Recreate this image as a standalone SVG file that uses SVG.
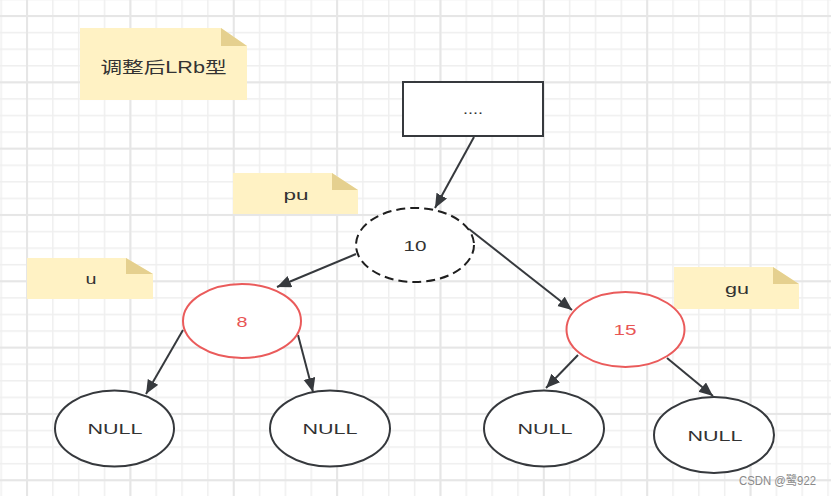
<svg xmlns="http://www.w3.org/2000/svg" width="831" height="496" viewBox="0 0 831 496">
  <style>
    .note { fill: #fff2c4; }
    .fold { fill: #e5d08f; }
    .cut { fill: #ffffff; }
    .txt { font-family: "Liberation Sans", "Noto Sans CJK SC", sans-serif; fill: #333333; text-anchor: middle; }
    .node { fill: #ffffff; stroke: #36393d; stroke-width: 2; }
    .red { fill: #ffffff; stroke: #ea5b5b; stroke-width: 2; }
    .redtxt { fill: #e85555; }
    .edge { stroke: #36393d; stroke-width: 2; fill: none; marker-end: url(#arrow); }
  </style>
  <defs>
    <pattern id="minor" patternUnits="userSpaceOnUse" x="0.41" y="-1.33" width="25.84" height="16.58">
      <rect x="0" y="0" width="1.5" height="16.58" fill="#efefef"/>
      <rect x="0" y="0" width="25.84" height="1.5" fill="#efefef"/>
    </pattern>
    <pattern id="major" patternUnits="userSpaceOnUse" x="26" y="15" width="103.36" height="66.32">
      <rect x="0" y="0" width="2" height="66.32" fill="#e6e6e6"/>
      <rect x="0" y="0" width="103.36" height="2" fill="#e6e6e6"/>
    </pattern>
    <marker id="arrow" markerUnits="userSpaceOnUse" markerWidth="16" markerHeight="14" refX="14" refY="6" orient="auto">
      <path d="M0,0 L14,6 L0,12 Z" fill="#36393d"/>
    </marker>
  </defs>

  <rect x="0" y="0" width="831" height="496" fill="#ffffff"/>
  <rect x="0" y="0" width="831" height="496" fill="url(#minor)"/>
  <rect x="0" y="0" width="831" height="496" fill="url(#major)"/>

  <g id="connectors">
    <line class="edge" x1="474" y1="137" x2="435" y2="208"/>
    <line class="edge" x1="356" y1="254" x2="277" y2="287"/>
    <line class="edge" x1="469" y1="229" x2="572" y2="310"/>
    <line class="edge" x1="183" y1="330" x2="146" y2="394"/>
    <line class="edge" x1="298" y1="335" x2="313" y2="392"/>
    <line class="edge" x1="578" y1="355" x2="546" y2="388"/>
    <line class="edge" x1="667" y1="358" x2="713" y2="396"/>
  </g>

  <g id="note-title">
    <path class="note" d="M80,28 H221 L247,46 V100 H80 Z"/>
    <path class="fold" d="M221,28 L247,46 H221 Z"/>
    <text class="txt" x="163.5" y="73" font-size="16" textLength="126" lengthAdjust="spacingAndGlyphs">调整后LRb型</text>
  </g>

  <g id="note-pu">
    <path class="note" d="M233,173 H332 L358,190 V214 H233 Z"/>
    <path class="fold" d="M332,173 L358,190 H332 Z"/>
    <text class="txt" x="296" y="200" font-size="15" textLength="25" lengthAdjust="spacingAndGlyphs">pu</text>
  </g>

  <g id="note-u">
    <path class="note" d="M27,258 H126 L153,274 V299 H27 Z"/>
    <path class="fold" d="M126,258 L153,274 H126 Z"/>
    <text class="txt" x="91" y="284" font-size="15" textLength="11" lengthAdjust="spacingAndGlyphs">u</text>
  </g>

  <g id="note-gu">
    <path class="note" d="M674,267 H773 L799,284 V309 H674 Z"/>
    <path class="fold" d="M773,267 L799,284 H773 Z"/>
    <text class="txt" x="737" y="294" font-size="15" textLength="24" lengthAdjust="spacingAndGlyphs">gu</text>
  </g>

  <g id="node-top">
    <rect class="node" x="403" y="82" width="140" height="54"/>
    <text class="txt" x="473" y="114" font-size="14" textLength="20" lengthAdjust="spacingAndGlyphs">....</text>
  </g>

  <g id="node-10">
    <ellipse cx="415" cy="245" rx="59" ry="37" fill="#ffffff" stroke="#1f1f1f" stroke-width="2" stroke-dasharray="9 5"/>
    <text class="txt" x="415" y="250.5" font-size="15" textLength="23" lengthAdjust="spacingAndGlyphs">10</text>
  </g>

  <g id="node-8">
    <ellipse class="red" cx="242" cy="321" rx="59" ry="37"/>
    <text class="txt redtxt" x="242" y="326.5" font-size="15" textLength="11" lengthAdjust="spacingAndGlyphs">8</text>
  </g>

  <g id="node-15">
    <ellipse class="red" cx="625.5" cy="329.5" rx="59" ry="37.5"/>
    <text class="txt redtxt" x="625" y="335" font-size="15" textLength="23" lengthAdjust="spacingAndGlyphs">15</text>
  </g>

  <g id="null-1">
    <ellipse class="node" cx="114.5" cy="428.5" rx="59.5" ry="38"/>
    <text class="txt" x="115" y="434" font-size="15" textLength="55" lengthAdjust="spacingAndGlyphs">NULL</text>
  </g>

  <g id="null-2">
    <ellipse class="node" cx="330" cy="428.5" rx="60" ry="38"/>
    <text class="txt" x="330" y="434" font-size="15" textLength="55" lengthAdjust="spacingAndGlyphs">NULL</text>
  </g>

  <g id="null-3">
    <ellipse class="node" cx="544" cy="428.5" rx="60" ry="38"/>
    <text class="txt" x="545" y="434" font-size="15" textLength="55" lengthAdjust="spacingAndGlyphs">NULL</text>
  </g>

  <g id="null-4">
    <ellipse class="node" cx="714" cy="435" rx="60" ry="38"/>
    <text class="txt" x="715" y="440.5" font-size="15" textLength="55" lengthAdjust="spacingAndGlyphs">NULL</text>
  </g>

  <text x="777.5" y="485" font-family="'Liberation Sans', 'Noto Sans CJK SC', sans-serif" font-size="12" fill="#8a8a8a" text-anchor="middle" textLength="77" lengthAdjust="spacingAndGlyphs">CSDN @鹭922</text>
</svg>
